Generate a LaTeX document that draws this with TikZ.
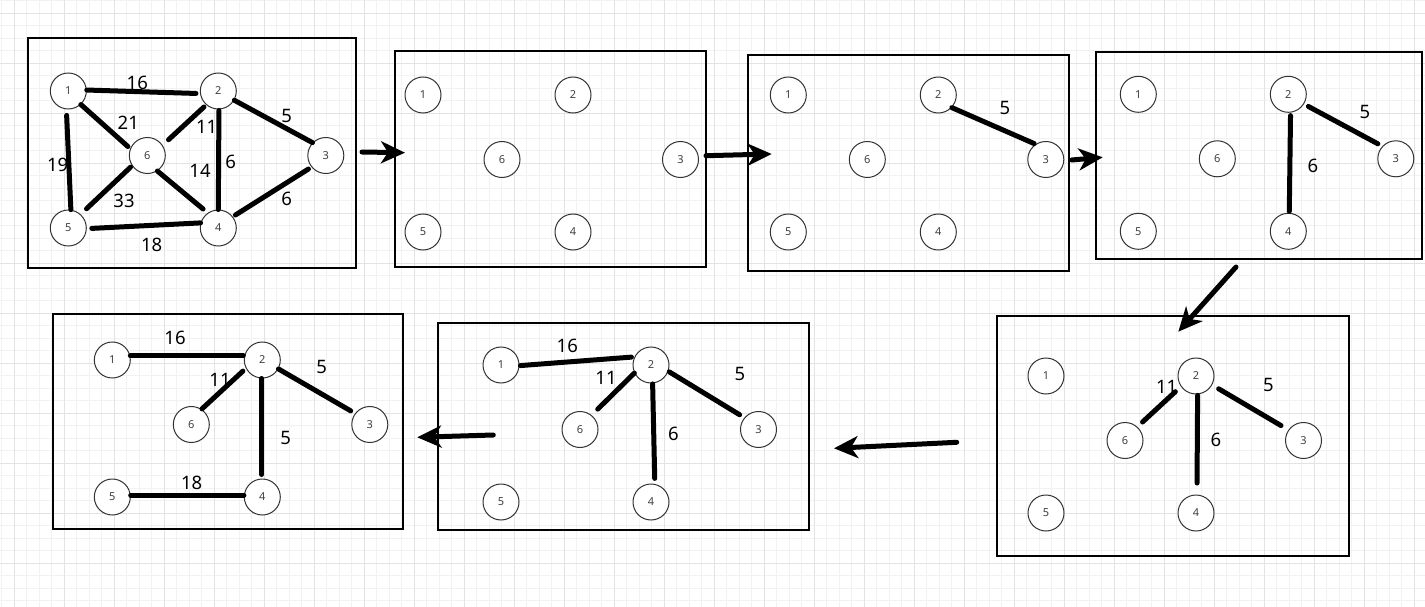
\documentclass[tikz,border=0pt]{standalone}
\usepackage{fontspec}
\setmainfont{Noto Sans}
\usetikzlibrary{arrows.meta}

\begin{document}
\begin{tikzpicture}
[x=1pt,y=-1pt,
  nodedecorate/.style={shape=circle,minimum size=36pt,inner sep=0pt,draw=black!80,
    line width=1pt,fill=white,text=black!75,font=\fontsize{11}{12}\selectfont},%
  linedecorate/.style={-,line width=5pt,line cap=round},%
  weightdecorate/.style={inner sep=0pt,font=\fontsize{18.5}{20}\selectfont},%
  boxdecorate/.style={draw,line width=2pt},%
  arrowdecorate/.style={-{Stealth[length=24pt,width=22pt,inset=7pt]},line width=5pt,line cap=round},%
  gridminor/.style={gray!10,line width=1pt},%
  gridmajor/.style={gray!22,line width=1pt}]
%% background and grid
\fill[white] (0,0) rectangle (1425,607);
\useasboundingbox (0,0) rectangle (1425,607);
\foreach \gx in {1.5,14,...,1425} {\draw[gridminor] (\gx,0) -- (\gx,607);}
\foreach \gy in {0.8,13.3,...,607} {\draw[gridminor] (0,\gy) -- (1425,\gy);}
\foreach \gx in {14,64,...,1425} {\draw[gridmajor] (\gx,0) -- (\gx,607);}
\foreach \gy in {13.3,63.3,...,607} {\draw[gridmajor] (0,\gy) -- (1425,\gy);}
%% frames of the steps
\foreach \xa/\ya/\xb/\yb in {
  28/38/356/268, 395/51/706/267, 748/55/1069/270.5, 1096/52/1422/259,
  997/315.5/1349/556, 437.5/323/809/529.5, 52.5/313.5/402.5/528.5}
{
  \draw[boxdecorate] (\xa,\ya) rectangle (\xb,\yb);
}
%% nodes or vertices
\foreach \panel/\ox/\oy in {
  a/68.3/91, b/423/95, c/788.3/95, d/1138.3/94.3,
  e/1046/376, f/501/365, g/112.3/360}
{
  \foreach \nodename/\dx/\dy in {
    1/0/0, 2/150/0, 3/257.5/64.5, 4/150/137, 5/0/137, 6/79/64.5}
  {
    \node (\panel\nodename) at (\ox+\dx,\oy+\dy) [nodedecorate] {\nodename};
  }
}
%% edges or lines
\path
\foreach \startnode/\endnode/\cuta/\cutb in {
  %% full graph
  a1.3/a2.188/0pt/4pt, a1.-47/a6.158/0pt/3pt, a1.264/a5.82/6pt/0pt,
  a2.229/a6.34/3pt/8pt, a2.272/a4.90/1pt/0pt, a2.330/a3.136/0pt/0pt,
  a6.214/a5.48/2pt/8pt, a6.303/a4.125/0pt/6pt, a5.358/a4.164/5pt/0pt,
  a3.219/a4.38/3.5pt/3pt,
  %% step 2
  c2.317/c3.124/0pt/1.5pt,
  %% step 3
  d2.328/d3.137/5pt/5pt, d2.277/d4.87/3pt/1.5pt,
  %% step 4
  e2.215/e6.48/7.5pt/7pt, e2.331/e3.145/7.5pt/8.5pt, e2.275/e4.87/1pt/11.5pt,
  %% step 5
  f1.358/f2.154/1pt/3pt, f2.206/f6.51/0pt/8.5pt, f2.340/f3.140/1pt/5.5pt,
  f2.275/f4.78/0.5pt/5.5pt,
  %% step 6
  g1.13/g2.167/0pt/1pt, g2.207/g6.56/4pt/0.5pt, g2.331/g3.143/0pt/5pt,
  g2.268/g4.92/0pt/4pt, g5.6/g4.174/0pt/0pt}
{
  (\startnode) edge[linedecorate,shorten <=\cuta,shorten >=\cutb] (\endnode)
};
%% weights
\foreach \labelname/\x/\y/\weight in {
  wa12/137.3/82.7/16, wa16/128.3/122.7/21, wa26/206.7/126.7/11,
  wa23/286.7/116/5, wa15/57.7/165/19, wa64/200/170.7/14,
  wa24/230.7/162.3/6, wa34/286.7/199/6, wa65/124/200.7/33,
  wa54/151.7/245/18,
  wc23/1005/108.3/5,
  wd23/1365/111.7/5, wd24/1313/166/6,
  we26/1166.7/387.3/11, we23/1268.3/385/5, we24/1216/440/6,
  wf12/567.3/345.7/16, wf26/606/378.3/11, wf23/740/374.3/5,
  wf24/673.3/434.3/6,
  wg12/175/337.7/16, wg26/220/380/11, wg23/321.7/366.7/5,
  wg24/285.7/438.3/5, wg54/191.7/482.7/18}
{
  \node (\labelname) at (\x,\y) [weightdecorate] {\weight};
}
%% arrows between the steps
\foreach \arrowname/\xa/\ya/\xb/\yb in {
  ab/362/152/405/152.7, bc/706/155.7/771.7/154, cd/1071.7/160/1102.7/157.3,
  de/1236/267/1178.3/331.7, ef/956.7/442.3/834/448.3, fg/493.3/435/417.3/437.3}
{
  \coordinate (from\arrowname) at (\xa,\ya);
  \coordinate (to\arrowname) at (\xb,\yb);
  \draw[arrowdecorate] (from\arrowname) -- (to\arrowname);
}
\end{tikzpicture}
\end{document}
